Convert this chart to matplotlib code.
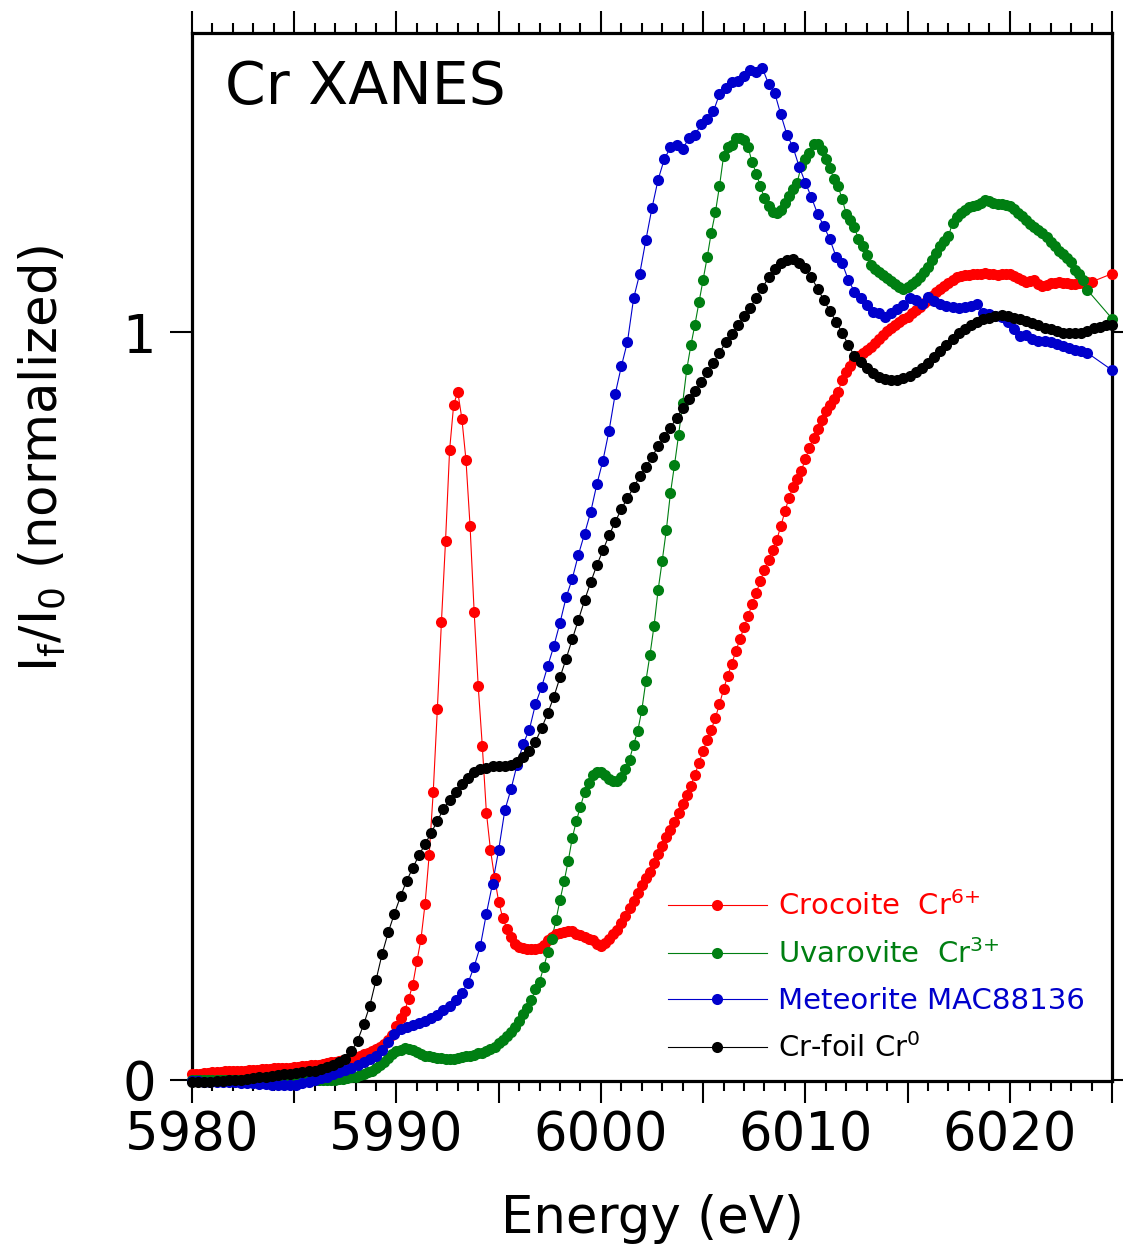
import numpy as np
import matplotlib
matplotlib.use('Agg')
import matplotlib.pyplot as plt
from matplotlib.ticker import MultipleLocator, FixedLocator, FuncFormatter
from matplotlib.lines import Line2D

plt.rcParams['font.family'] = ['DejaVu Sans']
plt.rcParams['mathtext.default'] = 'regular'

# ---------------- data ----------------
# Crocoite Cr6+ : 0.2 eV scan from 5980.0 eV, plus one final point
crocoite_start, crocoite_step = 5980.0, 0.2
crocoite = [
    0.007, 0.008, 0.008, 0.009, 0.009, 0.010, 0.010, 0.010, 0.011, 0.011,
    0.011, 0.012, 0.012, 0.012, 0.013, 0.013, 0.013, 0.014, 0.014, 0.014,
    0.015, 0.015, 0.015, 0.016, 0.016, 0.017, 0.017, 0.018, 0.018, 0.019,
    0.020, 0.020, 0.021, 0.022, 0.023, 0.024, 0.025, 0.026, 0.027, 0.028,
    0.030, 0.032, 0.034, 0.036, 0.038, 0.041, 0.044, 0.048, 0.053, 0.059,
    0.072, 0.082, 0.092, 0.108, 0.127, 0.158, 0.188, 0.235, 0.300, 0.385,
    0.495, 0.612, 0.720, 0.842, 0.903, 0.920, 0.884, 0.829, 0.741, 0.626,
    0.526, 0.446, 0.357, 0.307, 0.270, 0.238, 0.216, 0.202, 0.190, 0.181,
    0.177, 0.176, 0.175, 0.175, 0.175, 0.176, 0.180, 0.186, 0.191, 0.194,
    0.196, 0.197, 0.198, 0.198, 0.195, 0.193, 0.190, 0.188, 0.187, 0.181,
    0.178, 0.183, 0.188, 0.194, 0.200, 0.210, 0.219, 0.229, 0.239, 0.249,
    0.260, 0.269, 0.278, 0.290, 0.302, 0.313, 0.324, 0.334, 0.345, 0.357,
    0.368, 0.380, 0.393, 0.408, 0.424, 0.440, 0.454, 0.468, 0.484, 0.502,
    0.522, 0.540, 0.556, 0.573, 0.589, 0.605, 0.620, 0.636, 0.651, 0.667,
    0.682, 0.695, 0.709, 0.722, 0.740, 0.760, 0.778, 0.793, 0.804, 0.814,
    0.830, 0.845, 0.858, 0.870, 0.882, 0.894, 0.902, 0.910, 0.920, 0.936,
    0.946, 0.955, 0.963, 0.968, 0.972, 0.976, 0.980, 0.985, 0.990, 0.996,
    1.002, 1.005, 1.009, 1.013, 1.017, 1.020, 1.025, 1.030, 1.034, 1.039,
    1.043, 1.048, 1.053, 1.058, 1.062, 1.065, 1.069, 1.073, 1.075, 1.076,
    1.076, 1.077, 1.078, 1.078, 1.079, 1.078, 1.077, 1.076, 1.077, 1.078,
    1.077, 1.075, 1.072, 1.069, 1.067, 1.068, 1.070, 1.064, 1.061, 1.063,
    1.065, 1.066, 1.067, 1.066, 1.065, 1.064, 1.064, 1.065, 1.066, 1.067,
    1.067,
]
crocoite_last = (6025.0, 1.078)

# Uvarovite Cr3+ : 0.2 eV scan from 5980.0 eV, plus one final point
uvarovite_start, uvarovite_step = 5980.0, 0.2
uvarovite = [
    0.000, 0.000, 0.000, 0.000, 0.000, 0.000, 0.000, 0.000, 0.000, 0.000,
    0.000, 0.000, 0.000, 0.000, 0.000, 0.000, 0.000, 0.000, 0.000, 0.000,
    0.000, 0.000, 0.000, -0.001, -0.001, -0.001, -0.001, -0.001, -0.001, -0.001,
    -0.001, 0.000, 0.000, 0.000, 0.000, 0.000, 0.001, 0.001, 0.002, 0.003,
    0.004, 0.006, 0.008, 0.010, 0.012, 0.016, 0.020, 0.024, 0.029, 0.034,
    0.038, 0.040, 0.042, 0.041, 0.040, 0.037, 0.034, 0.032, 0.031, 0.030,
    0.029, 0.029, 0.028, 0.028, 0.028, 0.029, 0.030, 0.031, 0.032, 0.033,
    0.035, 0.036, 0.038, 0.041, 0.044, 0.049, 0.053, 0.058, 0.063, 0.070,
    0.078, 0.087, 0.095, 0.106, 0.121, 0.131, 0.150, 0.170, 0.188, 0.213,
    0.240, 0.265, 0.292, 0.323, 0.346, 0.365, 0.384, 0.397, 0.408, 0.412,
    0.411, 0.407, 0.402, 0.400, 0.400, 0.405, 0.415, 0.428, 0.448, 0.466,
    0.494, 0.533, 0.568, 0.607, 0.655, 0.694, 0.735, 0.784, 0.822, 0.862,
    0.905, 0.950, 0.982, 1.010, 1.040, 1.070, 1.100, 1.133, 1.160, 1.195,
    1.235, 1.248, 1.250, 1.260, 1.260, 1.257, 1.247, 1.227, 1.212, 1.195,
    1.179, 1.168, 1.161, 1.159, 1.163, 1.172, 1.182, 1.191, 1.200, 1.222,
    1.232, 1.240, 1.252, 1.251, 1.243, 1.232, 1.219, 1.205, 1.195, 1.178,
    1.158, 1.150, 1.140, 1.124, 1.115, 1.103, 1.090, 1.084, 1.080, 1.076,
    1.072, 1.068, 1.064, 1.060, 1.058, 1.060, 1.064, 1.068, 1.074, 1.080,
    1.087, 1.096, 1.106, 1.115, 1.122, 1.128, 1.146, 1.154, 1.159, 1.163,
    1.167, 1.169, 1.170, 1.172, 1.176, 1.175, 1.172, 1.171, 1.171, 1.170,
    1.168, 1.164, 1.159, 1.155, 1.150, 1.144, 1.140, 1.136, 1.132, 1.127,
    1.121, 1.115, 1.109, 1.105, 1.099, 1.094, 1.083, 1.077, 1.070, 1.056,
]
uvarovite_last = (6025.0, 1.018)

# Meteorite MAC88136 : 0.3 eV scan from 5980.0 eV, plus one final point
meteorite_start, meteorite_step = 5980.0, 0.3
meteorite = [
    -0.002, -0.002, -0.003, -0.003, -0.003, -0.004, -0.004, -0.004, -0.005, -0.005,
    -0.005, -0.006, -0.006, -0.007, -0.007, -0.008, -0.008, -0.007, -0.005, -0.003,
    -0.001, 0.002, 0.004, 0.007, 0.010, 0.013, 0.016, 0.019, 0.023, 0.027,
    0.032, 0.040, 0.050, 0.061, 0.067, 0.070, 0.073, 0.076, 0.078, 0.082,
    0.086, 0.093, 0.099, 0.107, 0.116, 0.129, 0.151, 0.178, 0.222, 0.262,
    0.307, 0.360, 0.388, 0.421, 0.449, 0.468, 0.502, 0.525, 0.553, 0.580,
    0.611, 0.645, 0.670, 0.702, 0.730, 0.759, 0.796, 0.828, 0.868, 0.917,
    0.954, 0.987, 1.045, 1.078, 1.123, 1.166, 1.204, 1.231, 1.247, 1.250,
    1.245, 1.259, 1.263, 1.278, 1.285, 1.295, 1.318, 1.327, 1.334, 1.336,
    1.342, 1.350, 1.348, 1.353, 1.332, 1.320, 1.291, 1.264, 1.247, 1.221,
    1.200, 1.180, 1.158, 1.142, 1.124, 1.101, 1.092, 1.070, 1.054, 1.045,
    1.036, 1.027, 1.025, 1.020, 1.025, 1.031, 1.036, 1.045, 1.043, 1.038,
    1.047, 1.041, 1.038, 1.035, 1.034, 1.032, 1.033, 1.035, 1.038, 1.026,
    1.024, 1.022, 1.020, 1.013, 1.004, 0.994, 0.996, 0.991, 0.988, 0.988,
    0.987, 0.984, 0.981, 0.979, 0.976, 0.974, 0.972,
]
meteorite_last = (6025.0, 0.949)

# Cr-foil Cr0 : 0.3 eV scan from 5980.0 to 6025.0 eV
crfoil_start, crfoil_step = 5980.0, 0.3
crfoil = [
    -0.004, -0.004, -0.003, -0.003, -0.002, -0.002, -0.001, 0.000, 0.000, 0.001,
    0.002, 0.003, 0.004, 0.005, 0.006, 0.007, 0.008, 0.009, 0.010, 0.011,
    0.012, 0.014, 0.017, 0.020, 0.023, 0.028, 0.038, 0.052, 0.074, 0.099,
    0.133, 0.168, 0.197, 0.222, 0.245, 0.266, 0.283, 0.300, 0.315, 0.330,
    0.346, 0.362, 0.374, 0.385, 0.395, 0.404, 0.411, 0.415, 0.417, 0.419,
    0.420, 0.420, 0.421, 0.425, 0.431, 0.439, 0.452, 0.470, 0.490, 0.512,
    0.538, 0.563, 0.589, 0.615, 0.641, 0.665, 0.688, 0.708, 0.728, 0.746,
    0.763, 0.778, 0.792, 0.807, 0.819, 0.833, 0.847, 0.860, 0.872, 0.885,
    0.898, 0.910, 0.921, 0.933, 0.946, 0.959, 0.972, 0.986, 0.997, 1.009,
    1.021, 1.032, 1.046, 1.059, 1.073, 1.084, 1.092, 1.096, 1.097, 1.092,
    1.085, 1.073, 1.058, 1.043, 1.028, 1.014, 0.999, 0.983, 0.968, 0.960,
    0.952, 0.945, 0.940, 0.937, 0.936, 0.936, 0.938, 0.941, 0.946, 0.952,
    0.959, 0.967, 0.975, 0.983, 0.991, 0.998, 1.004, 1.009, 1.013, 1.017,
    1.019, 1.021, 1.023, 1.021, 1.019, 1.017, 1.015, 1.012, 1.009, 1.006,
    1.004, 1.001, 0.999, 0.998, 0.998, 0.999, 1.002, 1.005, 1.007, 1.010,
    1.010,
]
crfoil_last = None

labels = ['Crocoite  Cr$^{6{+}}$', 'Uvarovite  Cr$^{3{+}}$',
          'Meteorite MAC88136', 'Cr-foil Cr$^{0}$']
colors = ['#ff0000', '#007f12', '#0000cc', '#000000']
x_tick_values = [5980, 5990, 6000, 6010, 6020]
y_tick_values = [0, 1]


def build(start, step, vals, last):
    e = start + step * np.arange(len(vals))
    v = np.asarray(vals, dtype=float)
    if last is not None:
        e = np.append(e, last[0])
        v = np.append(v, last[1])
    return e, v


series = [
    build(crocoite_start, crocoite_step, crocoite, crocoite_last),
    build(uvarovite_start, uvarovite_step, uvarovite, uvarovite_last),
    build(meteorite_start, meteorite_step, meteorite, meteorite_last),
    build(crfoil_start, crfoil_step, crfoil, crfoil_last),
]

# ---------------- figure ----------------
W, H = 1125, 1258
fig = plt.figure(figsize=(W / 100, H / 100), dpi=100)
ax = fig.add_axes([192 / W, 1 - 1081 / H, 920 / W, 1048 / H])

MS = 8.0
for (e, v), c in zip(series, colors):
    ax.plot(e, v, '-', color=c, lw=0.8, clip_on=False, zorder=2)
    ax.plot(e, v, 'o', color=c, ms=MS, mew=0, clip_on=False, zorder=3)

ax.set_xlim(5980, 6025)
ax.set_ylim(-0.002, 1.40)

for s in ax.spines.values():
    s.set_linewidth(2.3)

ax.xaxis.set_major_locator(MultipleLocator(5))
ax.xaxis.set_minor_locator(MultipleLocator(1))
ax.xaxis.set_major_formatter(FuncFormatter(
    lambda x, p: f'{x:.0f}' if int(round(x)) in x_tick_values else ''))
ax.tick_params(axis='x', which='major', direction='out', length=16, width=1.5,
               top=True, bottom=True, labelsize=38, pad=4)
ax.tick_params(axis='x', which='minor', direction='out', length=7, width=1.5,
               top=True, bottom=True)
ax.yaxis.set_major_locator(FixedLocator(y_tick_values))
ax.yaxis.set_major_formatter(FuncFormatter(lambda y, p: f'{y:.0f}'))
ax.tick_params(axis='y', which='major', direction='out', length=16, width=1.5,
               left=True, right=True, labelsize=38, pad=10)
for t in ax.yaxis.get_major_ticks():
    t.tick2line.set_markersize(8)

ax.set_xlabel('Energy (eV)', fontsize=37)
ax.xaxis.set_label_coords(0.5, -0.108)
ax.set_ylabel('I$_f$/I$_0$ (normalized)', fontsize=37)
ax.yaxis.set_label_coords(-0.135, 0.594)

ax.text(0.036, 0.932, 'Cr XANES', transform=ax.transAxes, fontsize=42,
        ha='left', va='baseline')

handles = [Line2D([], [], color=c, lw=0.8, marker='o', ms=MS, mew=0)
           for c in colors]
leg = ax.legend(handles, labels, loc='center left', bbox_to_anchor=(0.517, 0.099),
                frameon=False, fontsize=21, handlelength=3.4, handletextpad=0.38,
                labelspacing=0.62, borderpad=0, borderaxespad=0, numpoints=1)
for t, c in zip(leg.get_texts(), colors):
    t.set_color(c)

fig.savefig('out.png', dpi=100)
